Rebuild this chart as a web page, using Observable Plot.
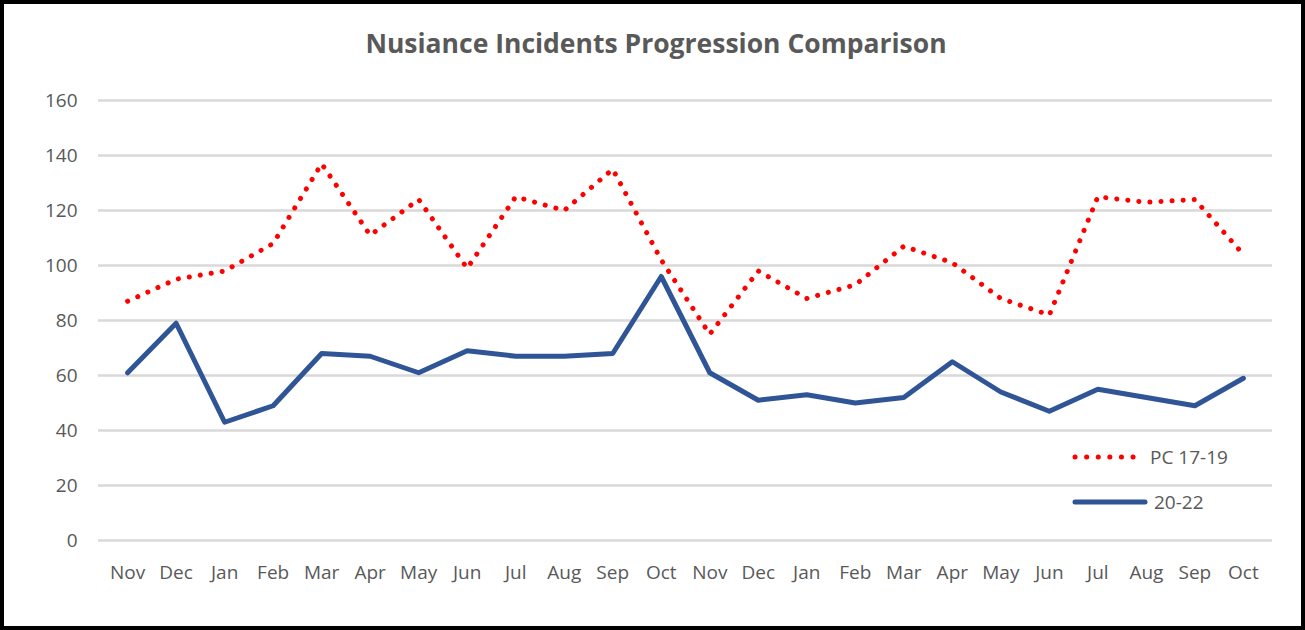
<!DOCTYPE html>
<html><head><meta charset="utf-8">
<script src="https://cdn.jsdelivr.net/npm/d3@7"></script>
<script src="https://cdn.jsdelivr.net/npm/@observablehq/plot@0.6"></script>
<style>
body{margin:0;background:#fff;}
#wrap{position:relative;width:1305px;height:630px;overflow:hidden;font-family:"Open Sans",sans-serif;background:#fff;}
#frame{position:absolute;left:0;top:0;width:1305px;height:630px;box-sizing:border-box;border:4px solid #000;pointer-events:none;}
#title{position:absolute;top:25px;left:0;width:1312px;text-align:center;font-size:26.5px;line-height:36px;font-weight:bold;color:#595959;}
#chart{position:absolute;left:0;top:75px;}
.leg{position:absolute;left:1072px;height:30px;display:flex;align-items:center;font-size:19px;color:#595959;white-space:nowrap;}
.leg svg{margin-right:6px;}
</style></head><body>
<div id="wrap">
<div id="title">Nusiance Incidents Progression Comparison</div>
<div id="chart"></div>
<div class="leg" id="leg1" style="top:442px"></div>
<div class="leg" id="leg2" style="top:487px"></div>
<div id="frame"></div>
</div>
<script>
const months = ["Nov","Dec","Jan","Feb","Mar","Apr","May","Jun","Jul","Aug","Sep","Oct",
                "Nov","Dec","Jan","Feb","Mar","Apr","May","Jun","Jul","Aug","Sep","Oct"];
const pc1719 = [87,95,98,108,137,111,124,99,125,120,135,102,75,98,88,93,107,101,88,82,125,123,124,104];
const s2022 = [61,79,43,49,68,67,61,69,67,67,68,96,61,51,53,50,52,65,54,47,55,52,49,59];
const yTicks = [0,20,40,60,80,100,120,140,160];
const seriesNames = ["PC 17-19","20-22"];
const seriesColors = ["#ff0000","#2f5597"];

const data = months.map((m,i)=>({i, m, pc: pc1719[i], cur: s2022[i]}));
const idx = d3.range(months.length);

const chart = Plot.plot({
  width:1305, height:540, marginLeft:98, marginRight:33, marginTop:25, marginBottom:75,
  style:{fontFamily:"Open Sans, sans-serif", fontSize:"19px", color:"#595959", background:"transparent", overflow:"visible"},
  x:{type:"point", domain:idx, padding:0.6, round:false, label:null},
  y:{domain:[0,160], label:null},
  marks:[
    Plot.gridY(yTicks,{stroke:"#d9d9d9", strokeOpacity:1, strokeWidth:2.5}),
    Plot.axisY(yTicks,{tickSize:0, tickPadding:21, label:null, fill:"#595959"}),
    Plot.axisX(idx,{tickSize:0, tickPadding:25, tickFormat:i=>months[i], label:null, fill:"#595959"}),
    Plot.line(data,{x:"i", y:"pc", stroke:seriesColors[0], strokeWidth:5, strokeDasharray:"0.1 11", strokeLinecap:"round"}),
    Plot.line(data,{x:"i", y:"cur", stroke:seriesColors[1], strokeWidth:5, strokeLinejoin:"round", strokeLinecap:"round"})
  ]
});
document.getElementById("chart").appendChild(chart);

function legendSvg(dotted, color, len){
  const ns="http://www.w3.org/2000/svg";
  const s=document.createElementNS(ns,"svg");
  s.setAttribute("width",len+6); s.setAttribute("height",10);
  const l=document.createElementNS(ns,"line");
  l.setAttribute("x1",3); l.setAttribute("x2",len+3); l.setAttribute("y1",5); l.setAttribute("y2",5);
  l.setAttribute("stroke",color); l.setAttribute("stroke-width",5); l.setAttribute("stroke-linecap","round");
  if(dotted) l.setAttribute("stroke-dasharray","0.1 11.5");
  s.appendChild(l);
  return s;
}
const l1=document.getElementById("leg1");
l1.appendChild(legendSvg(true, seriesColors[0], 66));
l1.appendChild(document.createTextNode(seriesNames[0]));
const l2=document.getElementById("leg2");
l2.appendChild(legendSvg(false, seriesColors[1], 70));
l2.appendChild(document.createTextNode(seriesNames[1]));
</script>
</body></html>
